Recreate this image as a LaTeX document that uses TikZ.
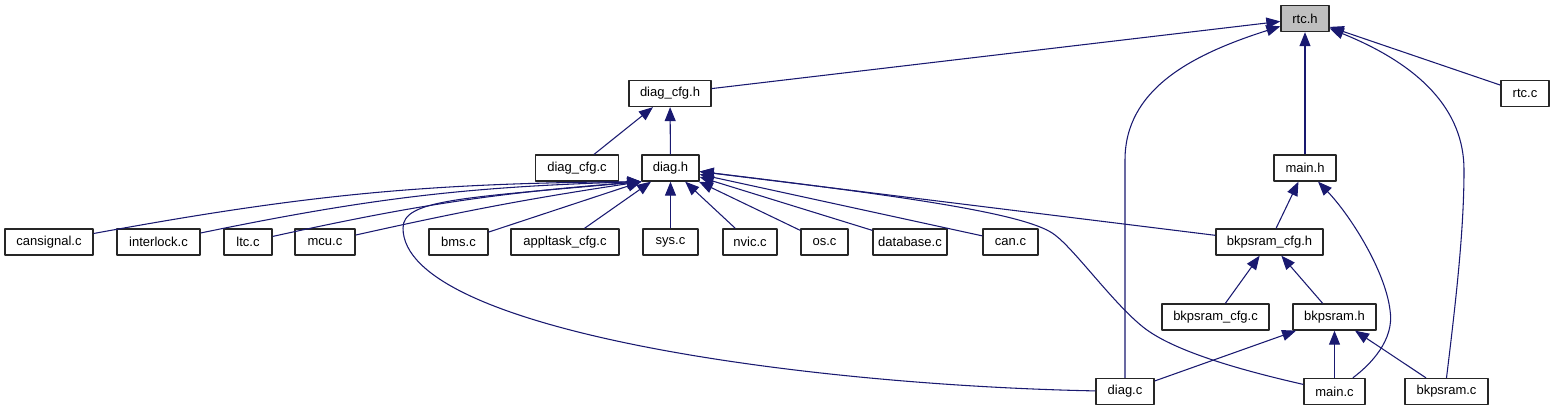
\documentclass[tikz,border=0pt]{standalone}
\usepackage{fontspec}
\setmainfont{Liberation Sans}
\usetikzlibrary{arrows.meta}
\definecolor{edgeblue}{HTML}{191970}
\definecolor{rootgray}{HTML}{BFBFBF}

\begin{document}
\begin{tikzpicture}[x=0.75pt, y=-0.75pt, line join=round,
	box/.style={draw=black!85, line width=1pt, fill=white, inner sep=0pt, minimum height=19.5pt, minimum width=#1*0.75pt, font=\fontsize{9.75}{11}\selectfont},
	edge/.style={draw=edgeblue, line width=0.8pt, -{Triangle[length=10.5pt, width=8.25pt]}}]
			\useasboundingbox (0,0) rectangle (1555,411);
			
			\def\rowA{93.5}
			\def\rowB{168}
			\def\rowC{242}
			\def\rowD{317}
			\def\rowE{391.5}
			
			\node[box=48, fill=rootgray] (rtcH) at (1305,18.5) {rtc.h};
			\node[box=48] (rtcC) at (1525,\rowA) {rtc.c};
			\node[box=82] (diagcfgH) at (670,\rowA) {diag\_cfg.h};
			\node[box=83] (diagcfgC) at (577,\rowB) {diag\_cfg.c};
			\node[box=57] (diagH) at (670.5,\rowB) {diag.h};
			\node[box=62] (mainH) at (1305,\rowB) {main.h};
			
			\node[box=88] (cansignalC) at (49,\rowC) {cansignal.c};
			\node[box=83] (interlockC) at (158.5,\rowC) {interlock.c};
			\node[box=48] (ltcC) at (248,\rowC) {ltc.c};
			\node[box=60] (mcuC) at (325,\rowC) {mcu.c};
			\node[box=59] (bmsC) at (458.5,\rowC) {bms.c};
			\node[box=108] (appltaskcfgC) at (565,\rowC) {appltask\_cfg.c};
			\node[box=55] (sysC) at (670.5,\rowC) {sys.c};
			\node[box=54] (nvicC) at (750,\rowC) {nvic.c};
			\node[box=47] (osC) at (824.5,\rowC) {os.c};
			\node[box=74] (databaseC) at (910,\rowC) {database.c};
			\node[box=55] (canC) at (1010.5,\rowC) {can.c};
			\node[box=107] (bkpsramcfgH) at (1269.5,\rowC) {bkpsram\_cfg.h};
			
			\node[box=107] (bkpsramcfgC) at (1215.5,\rowD) {bkpsram\_cfg.c};
			\node[box=83] (bkpsramH) at (1334.5,\rowD) {bkpsram.h};
			
			\node[box=58] (diagC) at (1125,\rowE) {diag.c};
			\node[box=61] (mainC) at (1334.5,\rowE) {main.c};
			\node[box=83] (bkpsramC) at (1446.5,\rowE) {bkpsram.c};
			
			% includers of rtc.h
			\draw[edge] (diagcfgH) -- (rtcH);
			\draw[edge] (diagC.north) -- (1125,160) .. controls (1125,90) and (1190,55) .. (rtcH);
			\draw[edge] (mainH) -- (rtcH);
			\draw[edge] (bkpsramC.north) .. controls (1456,300) and (1464,230) .. (1464,170) .. controls (1464,110) and (1420,65) .. (rtcH);
			\draw[edge] (rtcC) -- (rtcH);
			
			\draw[edge] (diagcfgC) -- (diagcfgH);
			\draw[edge] (diagH) -- (diagcfgH);
			
			% includers of diag.h
			\draw[edge] (cansignalC) to[bend left=5] (diagH.south west);
			\draw[edge] (interlockC) to[bend left=5] (diagH.south west);
			\draw[edge] (ltcC) to[bend left=4] (diagH.south west);
			\draw[edge] (mcuC) to[bend left=2] (diagH.south west);
			\draw[edge] (bmsC) -- (diagH.south west);
			\draw[edge] (appltaskcfgC) -- (diagH);
			\draw[edge] (sysC) -- (diagH);
			\draw[edge] (nvicC) -- (diagH);
			\draw[edge] (osC) -- (diagH);
			\draw[edge] (databaseC) -- (diagH);
			\draw[edge] (canC) -- (diagH);
			\draw[edge] (bkpsramcfgH) -- (diagH);
			\draw[edge] (diagC) .. controls (800,385) and (403,330) .. (403,228) .. controls (403,200) and (460,198) .. (diagH.south west);
			\draw[edge] (mainC) .. controls (1240,370) and (1173,351) .. (1143,327) .. controls (1113,303) and (1075,250) .. (1055,235) .. controls (1030,215) and (920,198) .. (diagH);
			
			% main.h, bkpsram_cfg.h, bkpsram.h
			\draw[edge] (bkpsramcfgH) -- (mainH);
			\draw[edge] (mainC) .. controls (1370,365) and (1395,340) .. (1390,310) .. controls (1385,270) and (1350,215) .. (mainH);
			\draw[edge] (bkpsramcfgC) -- (bkpsramcfgH);
			\draw[edge] (bkpsramH) -- (bkpsramcfgH);
			\draw[edge] (diagC) -- (bkpsramH);
			\draw[edge] (mainC) -- (bkpsramH);
			\draw[edge] (bkpsramC) -- (bkpsramH);
			
		\end{tikzpicture}
\end{document}
